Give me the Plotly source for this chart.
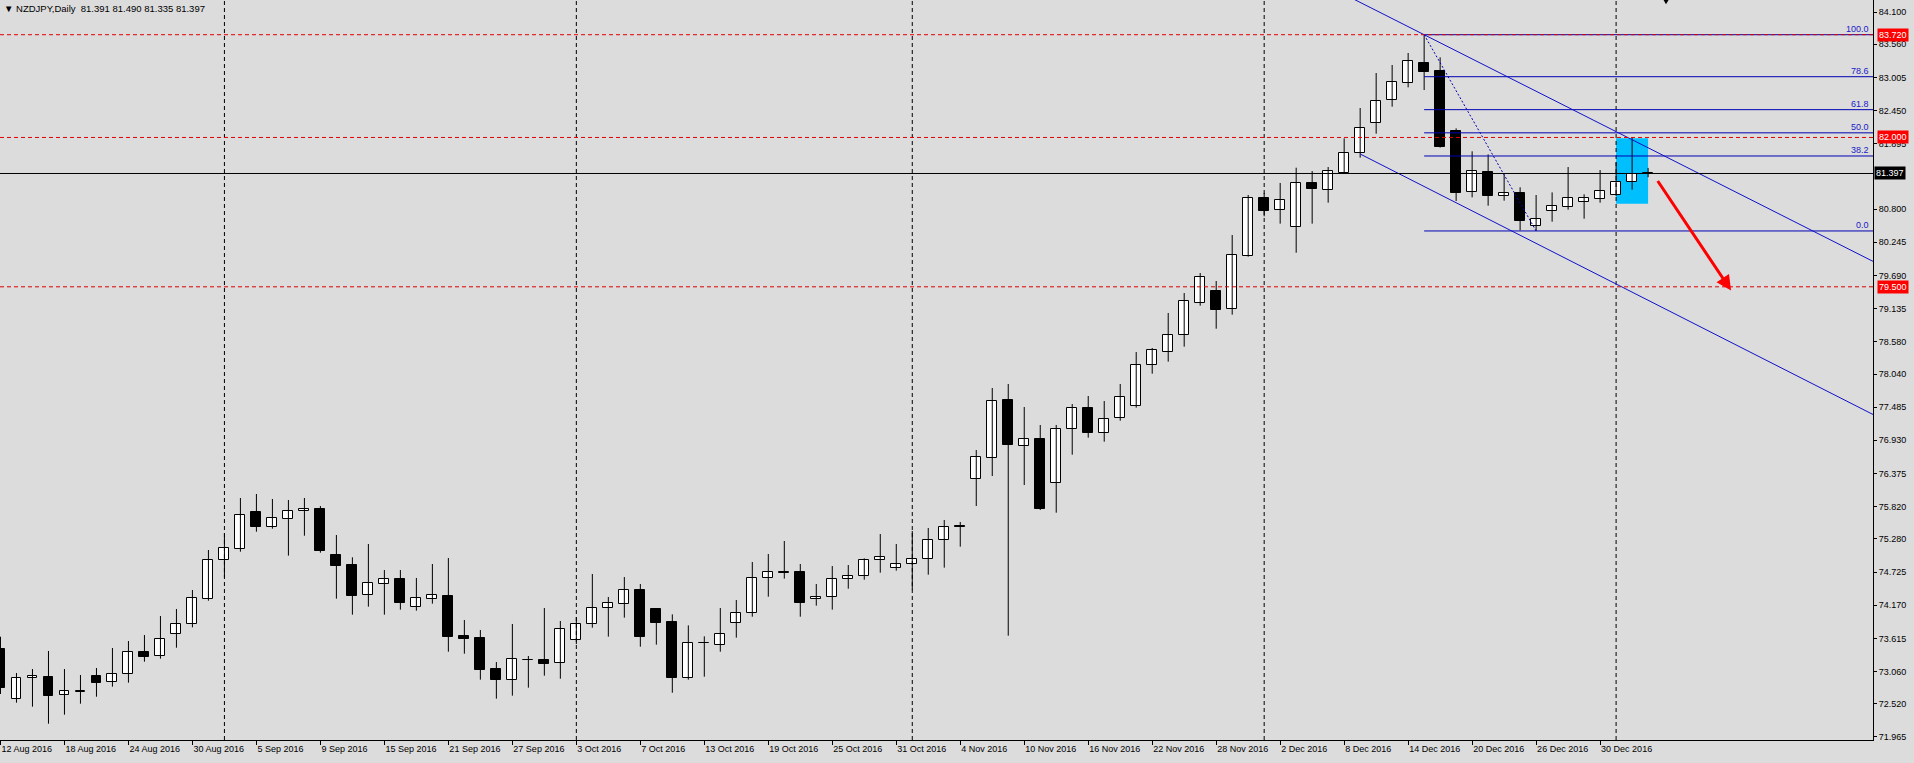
import pandas as pd
import plotly.graph_objects as go

# ---------------- data ----------------
dates = pd.bdate_range("2016-08-12", "2017-01-04")
date_labels = [f"{d.day} {d:%b %Y}" for d in dates]

opens = [73.437, 72.595, 72.946, 72.963, 72.662, 72.725, 72.980, 72.879, 73.013, 73.381,
         73.314, 73.683, 73.850, 74.268, 74.921, 75.117, 75.725, 75.485, 75.608, 75.742,
         75.775, 75.005, 74.838, 74.335, 74.520, 74.603, 74.134, 74.268, 74.319, 73.655,
         73.616, 73.097, 72.924, 73.250, 73.247, 73.197, 73.582, 73.861, 74.118, 74.185,
         74.419, 74.101, 73.884, 72.957, 73.530, 73.510, 73.878, 74.045, 74.620, 74.715,
         74.726, 74.280, 74.302, 74.603, 74.665, 74.921, 74.788, 74.854, 74.938, 75.256,
         75.490, 76.277, 76.640, 77.605, 76.841, 76.947, 76.221, 77.114, 77.466, 77.047,
         77.298, 77.510, 78.185, 78.414, 78.699, 79.234, 79.424, 79.123, 80.010, 80.981,
         80.780, 80.507, 81.232, 81.115, 81.410, 81.734, 82.236, 82.621, 82.906, 83.246,
         83.107, 82.108, 81.081, 81.416, 81.025, 81.064, 80.512, 80.763, 80.830, 80.914,
         80.976, 81.031, 81.249, 81.391]
highs = [73.643, 73.036, 73.102, 73.404, 73.102, 73.002, 73.119, 73.454, 73.571, 73.671,
         73.989, 74.107, 74.425, 75.094, 75.373, 75.965, 76.032, 75.948, 75.931, 75.965,
         75.831, 75.345, 74.972, 75.195, 74.759, 74.759, 74.626, 74.860, 74.960, 73.923,
         73.755, 73.219, 73.856, 73.320, 74.123, 73.906, 73.973, 74.693, 74.308, 74.642,
         74.525, 74.110, 74.017, 73.833, 73.649, 74.123, 74.257, 74.893, 75.027, 75.245,
         74.860, 74.525, 74.826, 74.843, 74.955, 75.362, 75.195, 75.412, 75.463, 75.597,
         75.563, 76.768, 77.806, 77.873, 77.488, 77.187, 77.187, 77.538, 77.672, 77.588,
         77.873, 78.408, 78.476, 79.062, 79.396, 79.731, 79.597, 80.367, 81.037, 81.070,
         81.238, 81.494, 81.438, 81.505, 81.985, 82.493, 83.079, 83.213, 83.414, 83.720,
         83.341, 82.152, 81.768, 81.717, 81.383, 81.165, 81.037, 81.081, 81.505, 81.048,
         81.455, 81.584, 82.002, 81.490]
lows = [72.684, 72.539, 72.472, 72.187, 72.338, 72.522, 72.639, 72.807, 72.874, 73.225,
        73.275, 73.459, 73.800, 74.246, 74.637, 75.066, 75.401, 75.451, 75.000, 75.334,
        75.050, 74.280, 74.012, 74.146, 74.012, 74.096, 74.079, 74.196, 73.392, 73.359,
        72.924, 72.606, 72.656, 72.790, 72.991, 72.940, 73.520, 73.794, 73.644, 73.962,
        73.476, 73.510, 72.706, 72.924, 72.974, 73.392, 73.627, 73.978, 74.313, 74.615,
        73.978, 74.163, 74.096, 74.447, 74.598, 74.715, 74.748, 74.430, 74.681, 74.799,
        75.150, 75.831, 76.333, 73.660, 76.182, 75.764, 75.719, 76.690, 76.975, 76.908,
        77.259, 77.477, 78.046, 78.247, 78.498, 79.184, 78.799, 79.034, 80.004, 80.680,
        80.557, 80.071, 80.557, 80.908, 81.388, 81.662, 82.063, 82.515, 82.839, 82.794,
        81.830, 80.936, 80.998, 80.858, 80.942, 80.445, 80.435, 80.590, 80.791, 80.640,
        80.908, 81.020, 81.126, 81.335]
closes = [72.790, 72.946, 72.980, 72.656, 72.729, 72.732, 72.874, 73.013, 73.381, 73.309,
          73.599, 73.850, 74.285, 74.921, 75.122, 75.675, 75.485, 75.624, 75.742, 75.786,
          75.083, 74.832, 74.330, 74.536, 74.603, 74.213, 74.285, 74.335, 73.644, 73.610,
          73.091, 72.924, 73.264, 73.256, 73.191, 73.766, 73.850, 74.118, 74.202, 74.419,
          73.644, 73.878, 72.957, 73.532, 73.535, 73.683, 74.034, 74.620, 74.721, 74.725,
          74.213, 74.313, 74.603, 74.654, 74.921, 74.972, 74.854, 74.938, 75.256, 75.474,
          75.480, 76.645, 77.583, 76.858, 76.947, 75.786, 77.114, 77.466, 77.058, 77.282,
          77.650, 78.185, 78.437, 78.688, 79.257, 79.658, 79.117, 80.027, 80.981, 80.774,
          80.948, 81.232, 81.131, 81.433, 81.734, 82.153, 82.610, 82.923, 83.274, 83.101,
          81.846, 81.076, 81.433, 81.025, 81.064, 80.607, 80.640, 80.858, 80.992, 80.981,
          81.098, 81.249, 81.383, 81.397]

# 81.340 is hidden under the bid label in the reference, so it is left out
y_ticks = [84.100, 83.560, 83.005, 82.450, 81.895, 80.800, 80.245, 79.690, 79.135,
           78.580, 78.040, 77.485, 76.930, 76.375, 75.820, 75.280, 74.725, 74.170, 73.615,
           73.060, 72.520, 71.965]

symbol_title = "NZDJPY,Daily"
last_ohlc = [81.391, 81.490, 81.335, 81.397]

# drawn objects on the chart
hlines_red = [83.720, 82.000, 79.500]
bid_price = 81.397
fib_high, fib_low = 83.720, 80.435
fib_start_bar, fib_end_bar = 89, 96
fib_levels = [100.0, 78.6, 61.8, 50.0, 38.2, 0.0]
channel_upper = [(80, 84.937), (118, 79.799)]
channel_lower = [(85, 81.723), (118, 77.235)]
zone_bars = (101, 103)
zone_prices = (80.890, 81.985)
arrow_from = (103.54, 81.296)
arrow_to = (108.19, 79.438)

# ---------------- figure ----------------
n = len(opens)
idx = list(range(n))
month_starts = [i for i in range(1, n) if dates[i].month != dates[i - 1].month]

BG = "#DCDCDC"
FONT = "Liberation Sans"
FIB_BLUE = "#0000B4"

fig = go.Figure()

# wicks
wx, wy = [], []
for i in idx:
    wx += [i, i, None]
    wy += [lows[i], highs[i], None]
fig.add_trace(go.Scatter(x=wx, y=wy, mode="lines", line=dict(color="black", width=1),
                         hoverinfo="skip", showlegend=False))

# bodies
base = [min(o, c) for o, c in zip(opens, closes)]
height = [abs(c - o) for o, c in zip(opens, closes)]
colors = ["white" if c >= o else "black" for o, c in zip(opens, closes)]
fig.add_trace(go.Bar(x=idx, y=height, base=base, width=0.62,
                     marker=dict(color=colors, line=dict(color="black", width=1)),
                     showlegend=False, hoverinfo="skip"))

shapes = []
# highlight zone (behind candles)
shapes.append(dict(type="rect", xref="x", yref="y", x0=zone_bars[0], x1=zone_bars[1],
                   y0=zone_prices[0], y1=zone_prices[1], fillcolor="#00BFFF",
                   line=dict(width=0), layer="below"))
# month separators
for m in month_starts:
    shapes.append(dict(type="line", xref="x", yref="paper", x0=m, x1=m, y0=0, y1=1,
                       line=dict(color="black", width=1, dash="4px,3px"), layer="above"))
# fib levels
for lv in fib_levels:
    p = fib_low + lv / 100.0 * (fib_high - fib_low)
    shapes.append(dict(type="line", xref="x", yref="y", x0=fib_start_bar, x1=120, y0=p, y1=p,
                       line=dict(color=FIB_BLUE, width=1), layer="above"))
shapes.append(dict(type="line", xref="x", yref="y", x0=fib_start_bar, x1=fib_end_bar,
                   y0=fib_high, y1=fib_low, line=dict(color=FIB_BLUE, width=1, dash="2px,2px"),
                   layer="above"))
# channel
for (a, b) in (channel_upper, channel_lower):
    shapes.append(dict(type="line", xref="x", yref="y", x0=a[0], y0=a[1], x1=b[0], y1=b[1],
                       line=dict(color="#1010C8", width=1), layer="above"))
# red horizontal levels
for p in hlines_red:
    shapes.append(dict(type="line", xref="paper", yref="y", x0=0, x1=1, y0=p, y1=p,
                       line=dict(color="#E00000", width=1, dash="4px,3px"), layer="above"))
# bid line
shapes.append(dict(type="line", xref="paper", yref="y", x0=0, x1=1, y0=bid_price, y1=bid_price,
                   line=dict(color="black", width=1), layer="above"))
# black marker at top
shapes.append(dict(type="path", xref="x", yref="y",
                   path="M 103.75,84.40 L 104.50,84.40 L 104.12,84.230 Z",
                   fillcolor="black", line=dict(width=0), layer="above"))

annotations = []
# title
annotations.append(dict(xref="paper", yref="paper", x=0, y=1, xanchor="left", yanchor="top",
                        xshift=2, yshift=-1, showarrow=False,
                        text="▼ " + symbol_title + "\u00a0\u00a0" + " ".join(f"{v:.3f}" for v in last_ohlc),
                        font=dict(family=FONT, size=9.5, color="black")))
# fib labels
for lv in fib_levels:
    p = fib_low + lv / 100.0 * (fib_high - fib_low)
    annotations.append(dict(xref="paper", yref="y", x=1, y=p, xanchor="right", yanchor="bottom",
                            xshift=-2, yshift=-1, showarrow=False, text=f"{lv:.1f}",
                            font=dict(family=FONT, size=9, color="#2020C8")))
# price labels on axis
for p in hlines_red:
    annotations.append(dict(xref="paper", yref="y", x=1, y=p, xanchor="left", yanchor="middle",
                            xshift=4, showarrow=False, text=f"{p:.3f}", bgcolor="#FF0000",
                            borderpad=1, font=dict(family=FONT, size=9, color="white")))
annotations.append(dict(xref="paper", yref="y", x=1, y=bid_price, xanchor="left", yanchor="middle",
                        xshift=1, showarrow=False, text=f"{bid_price:.3f}", bgcolor="black",
                        borderpad=1, font=dict(family=FONT, size=9, color="white")))
# red arrow
annotations.append(dict(x=arrow_to[0], y=arrow_to[1], ax=arrow_from[0], ay=arrow_from[1],
                        xref="x", yref="y", axref="x", ayref="y", text="", showarrow=True,
                        arrowhead=2, arrowsize=1, arrowwidth=3, arrowcolor="#FF0000"))

tick_pos = list(range(0, n, 4))
fig.update_layout(
    width=1914, height=763,
    margin=dict(l=0, r=41, t=0, b=23, pad=0),
    paper_bgcolor=BG, plot_bgcolor=BG,
    barmode="overlay", bargap=0,
    shapes=shapes, annotations=annotations,
    font=dict(family=FONT, size=9, color="black"),
    xaxis=dict(range=[-0.03, 117.06], showgrid=False, zeroline=False,
               tickmode="array", tickvals=tick_pos, ticktext=[date_labels[i] for i in tick_pos],
               ticks="outside", ticklen=4, tickcolor="black", ticklabelposition="outside right",
               showline=True, linecolor="black", linewidth=1,
               tickfont=dict(family=FONT, size=9, color="black")),
    yaxis=dict(range=[71.914, 84.301], side="right", showgrid=False, zeroline=False,
               tickmode="array", tickvals=y_ticks, ticktext=[f"{v:.3f}" for v in y_ticks],
               ticks="outside", ticklen=3, tickcolor="black",
               showline=True, linecolor="black", linewidth=1,
               tickfont=dict(family=FONT, size=9, color="black")),
)

fig.write_html("out.html")
